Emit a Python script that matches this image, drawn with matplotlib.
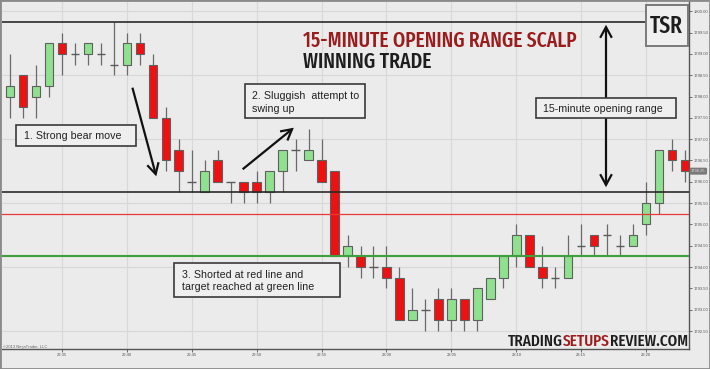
import matplotlib
matplotlib.use("Agg")
import matplotlib.pyplot as plt
from matplotlib.patches import Rectangle, FancyArrowPatch
from matplotlib import font_manager
from matplotlib.font_manager import FontProperties
import numpy as np

# ---------------- data ----------------
times = [f"{22 + (31 + i) // 60}:{(31 + i) % 60:02d}" for i in range(53)]
opens = [1798.0, 1798.5, 1798.0, 1798.25, 1799.25, 1799.0, 1799.0, 1799.0, 1798.75, 1798.75,
         1799.25, 1798.75, 1797.5, 1796.75, 1796.0, 1795.75, 1796.5, 1796.0, 1796.0, 1796.0,
         1795.75, 1796.25, 1796.75, 1796.5, 1796.5, 1796.25, 1794.25, 1794.25, 1794.0, 1794.0,
         1793.75, 1792.75, 1793.0, 1793.25, 1792.75, 1793.25, 1792.75, 1793.25, 1793.75, 1794.25,
         1794.75, 1794.0, 1793.75, 1793.75, 1794.5, 1794.75, 1794.75, 1794.5, 1794.5, 1795.0,
         1795.5, 1796.75, 1796.5]
highs = [1799.0, 1798.5, 1798.75, 1799.25, 1799.5, 1799.25, 1799.25, 1799.25, 1799.75, 1799.5,
         1799.5, 1799.0, 1797.75, 1797.0, 1796.75, 1796.5, 1796.75, 1796.0, 1796.0, 1796.25,
         1796.25, 1796.75, 1797.0, 1797.25, 1797.0, 1796.25, 1794.75, 1794.5, 1794.5, 1794.5,
         1794.0, 1793.5, 1793.25, 1793.5, 1793.5, 1793.25, 1793.5, 1793.75, 1794.25, 1795.0,
         1794.75, 1794.5, 1794.0, 1794.75, 1795.0, 1794.75, 1795.0, 1794.75, 1795.0, 1796.0,
         1796.75, 1797.0, 1796.75]
lows = [1797.5, 1797.5, 1797.5, 1798.0, 1798.5, 1798.75, 1798.75, 1798.75, 1798.5, 1798.5,
        1798.75, 1797.5, 1796.25, 1795.75, 1795.75, 1795.75, 1796.0, 1795.5, 1795.5, 1795.5,
        1795.5, 1795.75, 1796.25, 1796.5, 1796.0, 1794.25, 1794.0, 1793.75, 1793.75, 1793.5,
        1792.75, 1792.75, 1792.5, 1792.5, 1792.5, 1792.5, 1792.5, 1793.25, 1793.5, 1794.0,
        1794.0, 1793.5, 1793.5, 1793.75, 1794.25, 1794.25, 1794.25, 1794.25, 1794.5, 1794.75,
        1795.25, 1796.25, 1796.0]
closes = [1798.25, 1797.75, 1798.25, 1799.25, 1799.0, 1799.0, 1799.25, 1799.0, 1798.75, 1799.25,
          1799.0, 1797.5, 1796.5, 1796.25, 1796.0, 1796.25, 1796.0, 1796.0, 1795.75, 1795.75,
          1796.25, 1796.75, 1796.75, 1796.75, 1796.0, 1794.25, 1794.5, 1794.0, 1794.0, 1793.75,
          1792.75, 1793.0, 1793.0, 1792.75, 1793.25, 1792.75, 1793.5, 1793.75, 1794.25, 1794.75,
          1794.0, 1793.75, 1793.75, 1794.25, 1794.5, 1794.5, 1794.75, 1794.5, 1794.75, 1795.5,
          1796.75, 1796.5, 1796.25]
tick_labels = ["22:35", "22:40", "22:45", "22:50", "22:55", "23:00", "23:05", "23:10", "23:15", "23:20"]
price_ticks = [1792.5, 1793.0, 1793.5, 1794.0, 1794.5, 1795.0, 1795.5, 1796.0,
               1796.5, 1797.0, 1797.5, 1798.0, 1798.5, 1799.0, 1799.5, 1800.0]
grid_prices = [1792.5, 1794.0, 1795.5, 1797.0, 1798.5, 1800.0]
or_high = 1799.75
or_low = 1795.75
short_entry = 1795.25
target = 1794.25

# ---------------- fonts ----------------
names = {f.name for f in font_manager.fontManager.ttflist}
body_font = "Liberation Sans" if "Liberation Sans" in names else "DejaVu Sans"

WMAP = {"thin": 100, "extralight": 200, "light": 300, "normal": 400, "regular": 400,
        "book": 400, "medium": 500, "semibold": 600, "demibold": 600, "bold": 700,
        "extrabold": 800, "heavy": 900, "black": 900}


def wnum(w):
    try:
        return int(w)
    except (TypeError, ValueError):
        return WMAP.get(str(w).lower(), 400)


def find_condensed():
    best, best_score = None, None
    for f in font_manager.fontManager.ttflist:
        fn = f.fname.lower()
        nm = f.name.lower()
        st = str(f.stretch).lower()
        if f.style != "normal":
            continue
        if "extracondensed" in fn.replace("-", "").replace("_", "") or "extra-condensed" in st:
            level = 0
        elif "condensed" in fn or "condensed" in nm or "narrow" in fn or "narrow" in nm \
                or st in ("condensed", "semi-condensed"):
            level = 1
        else:
            continue
        if "semicondensed" in fn.replace("-", ""):
            level = 2
        score = (level, abs(wnum(f.weight) - 500))
        if best_score is None or score < best_score:
            best, best_score = f, score
    return best

cf = find_condensed()
if cf is not None:
    cond = FontProperties(fname=cf.fname)
else:
    cond = FontProperties(family="DejaVu Sans", stretch="condensed")

W, H = 710, 369
BG = "#ebebeb"
fig = plt.figure(figsize=(W / 100, H / 100), dpi=100, facecolor=BG)


def px(x, y):
    return (x / W, 1 - y / H)


ax = fig.add_axes([2 / W, 20 / H, 687 / W, 348 / H])
ax.set_facecolor(BG)
ax.set_xlim(-0.6, 52.29)
ax.set_ylim(1792.08, 1800.24)

# grid
tick_pos = [times.index(t) for t in tick_labels]
for tp in tick_pos:
    ax.axvline(tp, color="#d8d8d8", lw=0.8, zorder=0)
for gp in grid_prices:
    ax.axhline(gp, color="#d8d8d8", lw=0.8, zorder=0)

# candles
bw = 0.64
for i, (o, h, l, c) in enumerate(zip(opens, highs, lows, closes)):
    ax.vlines(i, l, h, color="#6a6a6a", lw=0.9, zorder=2)
    if c == o:
        ax.hlines(o, i - bw / 2, i + bw / 2, color="#5a5a5a", lw=1.0, zorder=3)
    else:
        fc = "#8fe08f" if c > o else "#ee1111"
        ax.add_patch(Rectangle((i - bw / 2, min(o, c)), bw, abs(c - o), facecolor=fc,
                               edgecolor="#606060", lw=0.8, zorder=3))

# levels
ax.axhline(or_high, color="#2a2a2a", lw=1.2, zorder=4)
ax.axhline(or_low, color="#2a2a2a", lw=1.2, zorder=4)
ax.axhline(short_entry, color="#e8383a", lw=0.9, zorder=4)
ax.axhline(target, color="#3f9f3f", lw=1.5, zorder=4)

# axes styling
for s in ("left", "top"):
    ax.spines[s].set_visible(False)
for s in ("right", "bottom"):
    ax.spines[s].set_color("#555555")
    ax.spines[s].set_linewidth(1.0)
ax.yaxis.tick_right()
ax.set_yticks(price_ticks)
ax.set_yticklabels([f"{p:.2f}" for p in price_ticks])
ax.set_xticks(tick_pos)
ax.set_xticklabels(tick_labels)
ax.tick_params(axis="both", labelsize=3.0, colors="#555555", length=2, width=0.6, pad=1.2)
for lab in ax.get_xticklabels() + ax.get_yticklabels():
    lab.set_family(body_font)

# last price label
ax.annotate(f"{closes[-1]:.2f}", xy=(1.0, closes[-1]), xycoords=("axes fraction", "data"),
            xytext=(1.5, 0), textcoords="offset points", ha="left", va="center",
            fontsize=2.9, color="#e0e0e0", family=body_font,
            bbox=dict(boxstyle="round,pad=0.2", fc="#7a7a7a", ec="#7a7a7a"), zorder=6,
            annotation_clip=False)

# copyright
fig.text(*px(3, 347), "\u00a92013 NinjaTrader, LLC", fontsize=3, color="#666666", va="center",
         family=body_font)

# arrows (figure pixel coordinates)
def arrow(p0, p1, style="->,head_length=0.55,head_width=0.3", lw=1.6):
    a = FancyArrowPatch(px(*p0), px(*p1), transform=fig.transFigure, arrowstyle=style,
                        mutation_scale=14, color="#111111", lw=lw, zorder=5,
                        joinstyle="miter", capstyle="butt")
    fig.patches.append(a)

arrow((131.7, 85), (157, 179))
arrow((240.5, 171), (296, 126))
arrow((606, 190), (606, 22), style="<->,head_length=0.55,head_width=0.3")


def box(x0, y0, x1, y1, lines, tx, ty, lh=13):
    r = Rectangle(px(x0, y1), (x1 - x0) / W, (y1 - y0) / H, transform=fig.transFigure,
                  facecolor="#efefef", edgecolor="#3a3a3a", lw=1.2, zorder=6)
    fig.patches.append(r)
    for k, ln in enumerate(lines):
        fig.text(*px(tx, ty + k * lh), ln, fontsize=7.7, color="#222222", va="center",
                 ha="left", family=body_font, zorder=7)

box(15.7, 125, 136.3, 145.7, ["1. Strong bear move"], 24, 135.5)
box(245, 84.3, 365.3, 118.3, ["2. Sluggish  attempt to", "swing up"], 252, 96)
box(535.7, 98.3, 676, 118.3, ["15-minute opening range"], 543, 108.5)
box(174.3, 263.3, 339.7, 297.3, ["3. Shorted at red line and", "target reached at green line"], 182, 274.5)

# TSR logo box
logo = Rectangle(px(645.7, 46.3), 42 / W, 41.6 / H, transform=fig.transFigure,
                 facecolor="#f0f0f0", edgecolor="#7a7a7a", lw=1.4, zorder=6)
fig.patches.append(logo)

fig.canvas.draw()
renderer = fig.canvas.get_renderer()


def fit(t, target_w):
    w = t.get_window_extent(renderer).width
    t.set_fontsize(t.get_fontsize() * target_w / w)


tsr = fig.text(*px(666.7, 26), "TSR", color="#1e1e1e", ha="center", va="center",
               fontproperties=cond, zorder=7)
tsr.set_fontsize(14)
fit(tsr, 33)

t1 = fig.text(*px(303, 41), "15-MINUTE OPENING RANGE SCALP", color="#9b1c1c",
              ha="left", va="center", fontproperties=cond)
t1.set_fontsize(16)
fit(t1, 275)
t2 = fig.text(*px(303, 62), "WINNING TRADE", color="#1e1e1e",
              ha="left", va="center", fontproperties=cond)
t2.set_fontsize(16)
fit(t2, 129)

# brand text (right aligned, multi-colour)
parts = [("TRADING", "#1e1e1e"), ("SETUPS", "#9b1c1c"), ("REVIEW.COM", "#1e1e1e")]
probe = fig.text(0, 0, "".join(p for p, _ in parts), fontproperties=cond)
probe.set_fontsize(14)
fit(probe, 179)
bfs = probe.get_fontsize()
probe.remove()
xr = 688
for txt, col in reversed(parts):
    t = fig.text(*px(xr, 341), txt, color=col, ha="right", va="center",
                 fontproperties=cond, zorder=7)
    t.set_fontsize(bfs)
    xr -= t.get_window_extent(renderer).width

# figure border
fig.patches.append(Rectangle((0, 0), 1, 1, transform=fig.transFigure, fill=False,
                             edgecolor="#8a8a8a", lw=2, zorder=10))

fig.savefig("out.png", dpi=100, facecolor=BG)
